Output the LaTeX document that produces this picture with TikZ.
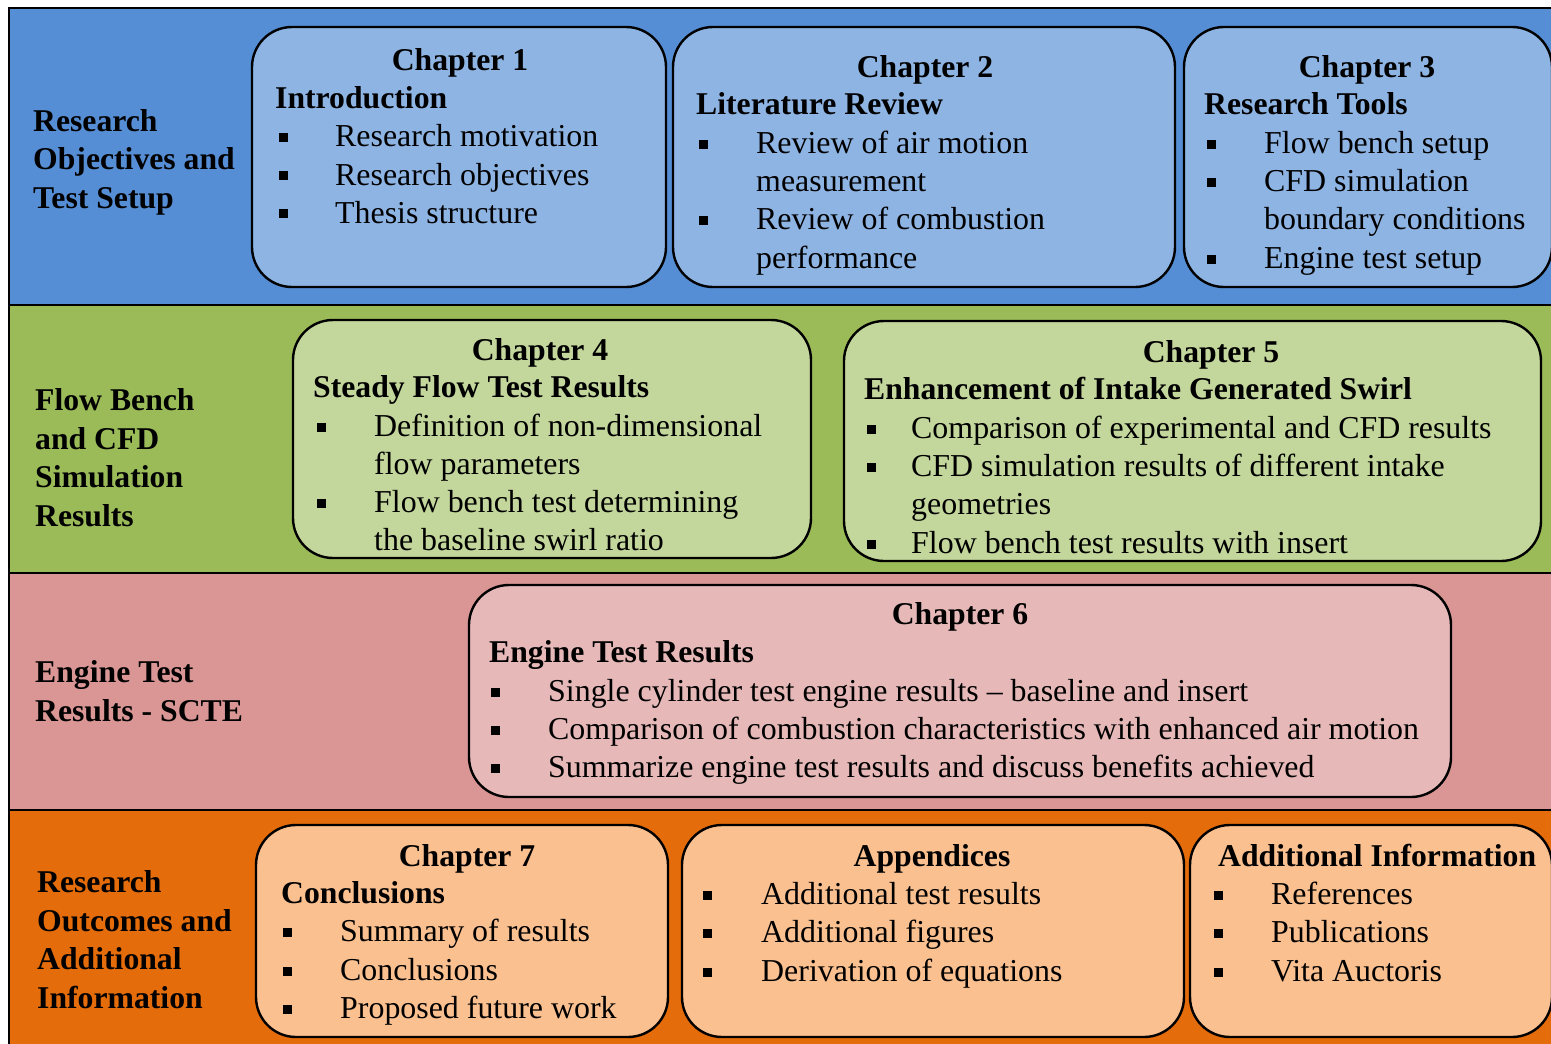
\documentclass[tikz,border=0pt]{standalone}
\usepackage{fontspec}
\setmainfont{Liberation Serif}
\definecolor{bandblue}{HTML}{558ED5}
\definecolor{boxblue}{HTML}{8EB4E3}
\definecolor{bandgreen}{HTML}{9BBB59}
\definecolor{boxgreen}{HTML}{C3D69B}
\definecolor{bandpink}{HTML}{D99694}
\definecolor{boxpink}{HTML}{E6B9B8}
\definecolor{bandorange}{HTML}{E46C0A}
\definecolor{boxorange}{HTML}{FAC090}
\tikzset{
  chbox/.style={draw=black, line width=2.4pt, rounded corners=40pt, inner sep=0pt},
  txt/.style={anchor=base west, inner sep=0pt, font=\fontsize{31.9}{38}\selectfont},
  hd/.style={anchor=base west, inner sep=0pt, font=\fontsize{31.7}{38}\selectfont\bfseries},
  hdc/.style={anchor=base, inner sep=0pt, font=\fontsize{31.7}{38}\selectfont\bfseries},
  lbl/.style={anchor=base west, inner sep=0pt, align=left, font=\fontsize{31.7}{38.4}\selectfont\bfseries},
  sq/.style={fill=black, inner sep=0pt, minimum size=9pt},
  sep/.style={line width=2.4pt, draw=black}
}
\begin{document}
\begin{tikzpicture}[x=1pt,y=-1pt]
\clip (0,0) rectangle (1551,1044);
\fill[white] (0,0) rectangle (1551,1044);
% bands
\fill[bandblue] (9,8) rectangle (1560,305);
\fill[bandgreen] (9,305) rectangle (1560,573);
\fill[bandpink] (9,573) rectangle (1560,810);
\fill[bandorange] (9,810) rectangle (1560,1050);
\coordinate (tl) at (9,8);
\coordinate (tr) at (1560,8);
\coordinate (bl) at (9,1050);
\coordinate (s1l) at (9,305); \coordinate (s1r) at (1560,305);
\coordinate (s2l) at (9,573); \coordinate (s2r) at (1560,573);
\coordinate (s3l) at (9,810); \coordinate (s3r) at (1560,810);
\draw[sep] (tr) -- (tl) -- (bl);
\draw[sep] (s1l) -- (s1r);
\draw[sep] (s2l) -- (s2r);
\draw[sep] (s3l) -- (s3r);

% band labels (anchored at the baseline of their last line)
\node[lbl] (l1) at (33,208) {Research\\Objectives and\\Test Setup};
\node[lbl] (l2) at (35,526) {Flow Bench\\and CFD\\Simulation\\Results};
\node[lbl] (l3) at (35,721) {Engine Test\\Results - SCTE};
\node[lbl] (l4) at (37,1008) {Research\\Outcomes and\\Additional\\Information};

% ---------- Chapter 1
\node[chbox, fill=boxblue, minimum width=414pt, minimum height=260pt] (c1) at (459,157) {};
\node[hdc] (c1t) at (460,70) {Chapter 1};
\node[hd] (c1h) at (275,108) {Introduction};
\node[sq] (c1b1) at (283,137) {}; \node[txt] (c1x1) at (335,146) {Research motivation};
\node[sq] (c1b2) at (283,175) {}; \node[txt] (c1x2) at (335,185) {Research objectives};
\node[sq] (c1b3) at (283,213) {}; \node[txt] (c1x3) at (335,223) {Thesis structure};

% ---------- Chapter 2
\node[chbox, fill=boxblue, minimum width=502pt, minimum height=260pt] (c2) at (924,157) {};
\node[hdc] (c2t) at (925,77) {Chapter 2};
\node[hd] (c2h) at (696,114) {Literature Review};
\node[sq] (c2b1) at (703,144) {}; \node[txt] (c2x1) at (756,153) {Review of air motion};
\node[txt] (c2x2) at (756,191) {measurement};
\node[sq] (c2b3) at (703,220) {}; \node[txt] (c2x3) at (756,229) {Review of combustion};
\node[txt] (c2x4) at (756,268) {performance};

% ---------- Chapter 3
\node[chbox, fill=boxblue, minimum width=368pt, minimum height=260pt] (c3) at (1368,157) {};
\node[hdc] (c3t) at (1367,77) {Chapter 3};
\node[hd] (c3h) at (1204,114) {Research Tools};
\node[sq] (c3b1) at (1211,144) {}; \node[txt] (c3x1) at (1264,153) {Flow bench setup};
\node[sq] (c3b2) at (1211,182) {}; \node[txt] (c3x2) at (1264,191) {CFD simulation};
\node[txt] (c3x3) at (1264,229) {boundary conditions};
\node[sq] (c3b4) at (1211,259) {}; \node[txt] (c3x4) at (1264,268) {Engine test setup};

% ---------- Chapter 4
\node[chbox, fill=boxgreen, minimum width=518pt, minimum height=238pt] (c4) at (552,439) {};
\node[hdc] (c4t) at (540,360) {Chapter 4};
\node[hd] (c4h) at (313,397) {Steady Flow Test Results};
\node[sq] (c4b1) at (321,427) {}; \node[txt] (c4x1) at (374,436) {Definition of non-dimensional};
\node[txt] (c4x2) at (374,474) {flow parameters};
\node[sq] (c4b3) at (321,503) {}; \node[txt] (c4x3) at (374,512) {Flow bench test determining};
\node[txt] (c4x4) at (374,550) {the baseline swirl ratio};

% ---------- Chapter 5
\node[chbox, fill=boxgreen, minimum width=697pt, minimum height=240pt] (c5) at (1192.5,441) {};
\node[hdc] (c5t) at (1211,362) {Chapter 5};
\node[hd] (c5h) at (864,399) {Enhancement of Intake Generated Swirl};
\node[sq] (c5b1) at (871,429) {}; \node[txt] (c5x1) at (911,438) {Comparison of experimental and CFD results};
\node[sq] (c5b2) at (871,467) {}; \node[txt] (c5x2) at (911,476) {CFD simulation results of different intake};
\node[txt] (c5x3) at (911,514) {geometries};
\node[sq] (c5b4) at (871,544) {}; \node[txt] (c5x4) at (911,553) {Flow bench test results with insert};

% ---------- Chapter 6
\node[chbox, fill=boxpink, minimum width=982pt, minimum height=212pt] (c6) at (960,691) {};
\node[hdc] (c6t) at (960,624) {Chapter 6};
\node[hd] (c6h) at (489,662) {Engine Test Results};
\node[sq] (c6b1) at (495,692) {}; \node[txt] (c6x1) at (548,701) {Single cylinder test engine results -- baseline and insert};
\node[sq] (c6b2) at (495,730) {}; \node[txt] (c6x2) at (548,739) {Comparison of combustion characteristics with enhanced air motion};
\node[sq] (c6b3) at (495,768) {}; \node[txt] (c6x3) at (548,777) {Summarize engine test results and discuss benefits achieved};

% ---------- Chapter 7
\node[chbox, fill=boxorange, minimum width=412pt, minimum height=212pt] (c7) at (462,931) {};
\node[hdc] (c7t) at (467,866) {Chapter 7};
\node[hd] (c7h) at (281,903) {Conclusions};
\node[sq] (c7b1) at (287,932) {}; \node[txt] (c7x1) at (340,941) {Summary of results};
\node[sq] (c7b2) at (287,971) {}; \node[txt] (c7x2) at (340,980) {Conclusions};
\node[sq] (c7b3) at (287,1009) {}; \node[txt] (c7x3) at (340,1018) {Proposed future work};

% ---------- Appendices
\node[chbox, fill=boxorange, minimum width=502pt, minimum height=212pt] (ap) at (933,931) {};
\node[hdc] (apt) at (932,866) {Appendices};
\node[sq] (apb1) at (707,895) {}; \node[txt] (apx1) at (761,904) {Additional test results};
\node[sq] (apb2) at (707,933) {}; \node[txt] (apx2) at (761,942) {Additional figures};
\node[sq] (apb3) at (707,972) {}; \node[txt] (apx3) at (761,981) {Derivation of equations};

% ---------- Additional Information
\node[chbox, fill=boxorange, minimum width=362pt, minimum height=212pt] (ai) at (1371,931) {};
\node[hd] (aih) at (1218,866) {Additional Information};
\node[sq] (aib1) at (1218,895) {}; \node[txt] (aix1) at (1271,904) {References};
\node[sq] (aib2) at (1218,933) {}; \node[txt] (aix2) at (1271,942) {Publications};
\node[sq] (aib3) at (1218,972) {}; \node[txt] (aix3) at (1271,981) {Vita Auctoris};
\end{tikzpicture}
\end{document}
